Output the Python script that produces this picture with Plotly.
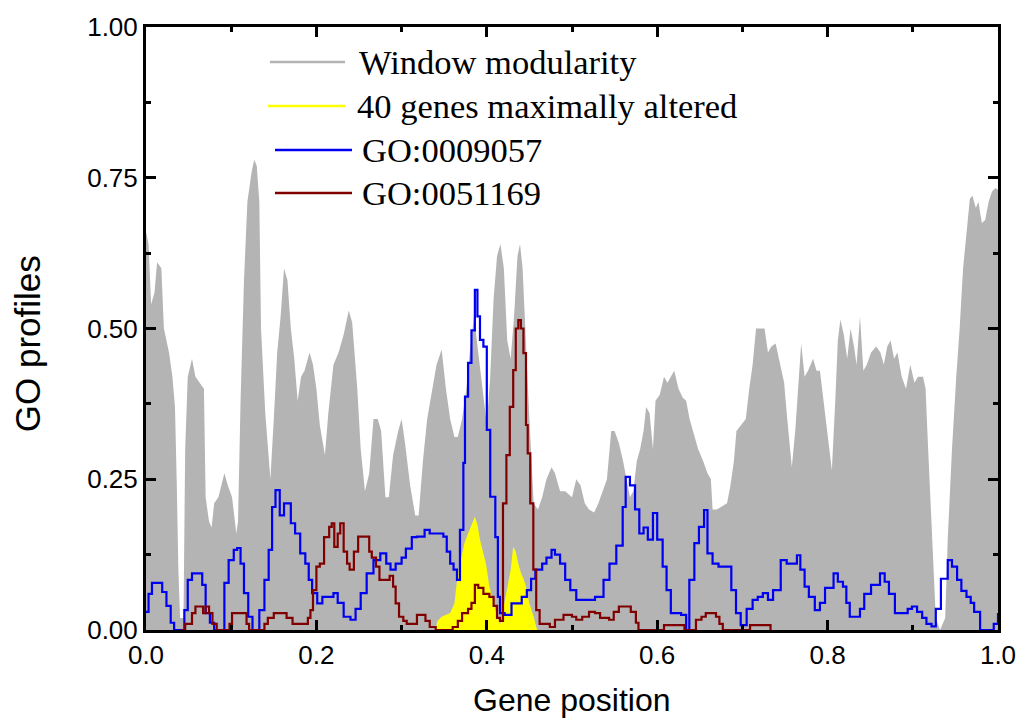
import plotly.graph_objects as go

# Window modularity profile (gene position, value)
mod_x = [0.000, 0.003, 0.006, 0.010, 0.013, 0.018, 0.021, 0.027, 0.031, 0.034, 0.036, 0.038, 0.040, 0.044,
         0.046, 0.049, 0.054, 0.058, 0.063, 0.068, 0.070, 0.074, 0.077, 0.080, 0.085, 0.090, 0.092, 0.096,
         0.101, 0.106, 0.108, 0.111, 0.115, 0.119, 0.124, 0.127, 0.130, 0.133, 0.135, 0.140, 0.146, 0.150,
         0.154, 0.158, 0.162, 0.166, 0.170, 0.174, 0.178, 0.182, 0.186, 0.192, 0.196, 0.200, 0.204, 0.210,
         0.214, 0.220, 0.226, 0.232, 0.238, 0.242, 0.248, 0.252, 0.257, 0.262, 0.267, 0.272, 0.276, 0.281,
         0.285, 0.290, 0.296, 0.300, 0.304, 0.310, 0.316, 0.320, 0.325, 0.330, 0.336, 0.341, 0.347, 0.352,
         0.357, 0.362, 0.366, 0.371, 0.376, 0.380, 0.385, 0.390, 0.395, 0.400, 0.404, 0.408, 0.412, 0.416,
         0.420, 0.424, 0.428, 0.432, 0.436, 0.439, 0.442, 0.446, 0.450, 0.455, 0.460, 0.465, 0.470, 0.476,
         0.480, 0.486, 0.492, 0.500, 0.505, 0.510, 0.515, 0.520, 0.526, 0.531, 0.536, 0.541, 0.546, 0.550,
         0.555, 0.560, 0.564, 0.568, 0.572, 0.576, 0.580, 0.584, 0.587, 0.591, 0.595, 0.598, 0.603, 0.608,
         0.612, 0.616, 0.620, 0.625, 0.630, 0.634, 0.638, 0.642, 0.648, 0.654, 0.659, 0.663, 0.665, 0.670,
         0.676, 0.682, 0.686, 0.690, 0.693, 0.698, 0.704, 0.708, 0.712, 0.716, 0.720, 0.726, 0.730, 0.734,
         0.739, 0.744, 0.749, 0.752, 0.755, 0.758, 0.762, 0.766, 0.769, 0.773, 0.777, 0.783, 0.787, 0.791,
         0.795, 0.800, 0.805, 0.809, 0.812, 0.815, 0.819, 0.823, 0.827, 0.831, 0.834, 0.838, 0.842, 0.846,
         0.851, 0.857, 0.862, 0.866, 0.870, 0.874, 0.878, 0.882, 0.887, 0.892, 0.897, 0.902, 0.906, 0.912,
         0.915, 0.918, 0.921, 0.924, 0.927, 0.932, 0.938, 0.941, 0.946, 0.951, 0.955, 0.959, 0.963, 0.967,
         0.970, 0.974, 0.977, 0.981, 0.985, 0.989, 0.993, 0.997, 1.000]
mod_y = [0.66, 0.64, 0.54, 0.56, 0.61, 0.60, 0.50, 0.46, 0.42, 0.37, 0.25, 0.10, 0.02, 0.02,
         0.30, 0.42, 0.45, 0.42, 0.41, 0.40, 0.22, 0.18, 0.17, 0.21, 0.22, 0.25, 0.26, 0.24,
         0.22, 0.16, 0.18, 0.38, 0.58, 0.71, 0.76, 0.78, 0.77, 0.71, 0.50, 0.36, 0.25, 0.35,
         0.46, 0.52, 0.60, 0.58, 0.50, 0.45, 0.38, 0.42, 0.43, 0.46, 0.44, 0.40, 0.34, 0.29,
         0.36, 0.44, 0.46, 0.49, 0.53, 0.51, 0.40, 0.30, 0.23, 0.26, 0.35, 0.35, 0.33, 0.22,
         0.22, 0.29, 0.33, 0.35, 0.31, 0.24, 0.19, 0.19, 0.28, 0.35, 0.40, 0.44, 0.465, 0.40,
         0.35, 0.32, 0.32, 0.35, 0.40, 0.46, 0.52, 0.46, 0.40, 0.34, 0.42, 0.55, 0.62, 0.64,
         0.60, 0.48, 0.45, 0.52, 0.62, 0.64, 0.60, 0.46, 0.35, 0.21, 0.20, 0.22, 0.25, 0.27,
         0.26, 0.23, 0.23, 0.22, 0.25, 0.24, 0.21, 0.20, 0.195, 0.21, 0.23, 0.25, 0.33, 0.33,
         0.31, 0.28, 0.25, 0.22, 0.23, 0.28, 0.30, 0.33, 0.37, 0.36, 0.30, 0.38, 0.39, 0.42,
         0.41, 0.42, 0.43, 0.40, 0.385, 0.38, 0.35, 0.33, 0.30, 0.28, 0.26, 0.25, 0.20, 0.20,
         0.205, 0.21, 0.24, 0.28, 0.33, 0.34, 0.35, 0.40, 0.44, 0.50, 0.50, 0.50, 0.46, 0.47,
         0.475, 0.44, 0.41, 0.36, 0.32, 0.27, 0.33, 0.42, 0.475, 0.42, 0.43, 0.45, 0.43, 0.43,
         0.38, 0.32, 0.265, 0.38, 0.48, 0.515, 0.49, 0.45, 0.50, 0.47, 0.44, 0.52, 0.43, 0.44,
         0.46, 0.47, 0.46, 0.44, 0.47, 0.48, 0.45, 0.46, 0.42, 0.40, 0.44, 0.41, 0.42, 0.42,
         0.40, 0.30, 0.20, 0.10, 0.02, 0.00, 0.02, 0.15, 0.30, 0.42, 0.50, 0.60, 0.66, 0.715,
         0.72, 0.70, 0.71, 0.675, 0.68, 0.71, 0.727, 0.733, 0.73]

# 40 genes maximally altered
alt_x = [0.340, 0.342, 0.347, 0.352, 0.357, 0.362, 0.366, 0.370, 0.374, 0.378, 0.382, 0.386, 0.389,
         0.392, 0.396, 0.399, 0.403, 0.408, 0.412, 0.416, 0.420, 0.424, 0.428, 0.431, 0.434, 0.437,
         0.440, 0.443, 0.446, 0.450, 0.455, 0.459]
alt_y = [0.0, 0.015, 0.022, 0.025, 0.028, 0.044, 0.094, 0.12, 0.145, 0.16, 0.175, 0.188, 0.175,
         0.15, 0.127, 0.11, 0.072, 0.044, 0.022, 0.01, 0.04, 0.072, 0.10, 0.138, 0.13, 0.11,
         0.095, 0.085, 0.072, 0.044, 0.022, 0.0]

# GO:0009057 profile
go1_x = [0.000, 0.003, 0.007, 0.015, 0.019, 0.024, 0.029, 0.033, 0.041, 0.045, 0.049, 0.054, 0.062,
         0.066, 0.070, 0.075, 0.080, 0.088, 0.092, 0.097, 0.103, 0.107, 0.111, 0.115, 0.120, 0.125,
         0.129, 0.133, 0.139, 0.144, 0.148, 0.152, 0.157, 0.162, 0.166, 0.170, 0.175, 0.181, 0.187,
         0.191, 0.195, 0.201, 0.207, 0.214, 0.220, 0.225, 0.232, 0.240, 0.246, 0.252, 0.259, 0.267,
         0.275, 0.282, 0.287, 0.293, 0.300, 0.305, 0.312, 0.318, 0.327, 0.333, 0.341, 0.349, 0.353,
         0.357, 0.361, 0.365, 0.3685, 0.3725, 0.3744, 0.378, 0.382, 0.386, 0.389, 0.392, 0.396, 0.400,
         0.404, 0.410, 0.413, 0.4155, 0.421, 0.429, 0.441, 0.447, 0.452, 0.457, 0.465, 0.470, 0.476,
         0.480, 0.486, 0.492, 0.498, 0.505, 0.517, 0.527, 0.537, 0.544, 0.552, 0.5595, 0.563, 0.568,
         0.574, 0.579, 0.584, 0.589, 0.595, 0.600, 0.6064, 0.611, 0.616, 0.628, 0.634, 0.6377, 0.6436,
         0.649, 0.655, 0.659, 0.665, 0.672, 0.681, 0.687, 0.6925, 0.698, 0.705, 0.712, 0.718, 0.724,
         0.730, 0.736, 0.745, 0.752, 0.758, 0.764, 0.768, 0.773, 0.778, 0.785, 0.791, 0.797, 0.807,
         0.812, 0.818, 0.822, 0.826, 0.833, 0.838, 0.843, 0.851, 0.8615, 0.867, 0.872, 0.879, 0.888,
         0.894, 0.899, 0.905, 0.911, 0.916, 0.922, 0.927, 0.933, 0.941, 0.946, 0.952, 0.957, 0.963,
         0.968, 0.972, 0.979, 0.990, 0.995, 1.000]
go1_y = [0.03, 0.06, 0.078, 0.078, 0.063, 0.04, 0.012, 0.0, 0.0, 0.033, 0.083, 0.094, 0.094,
         0.075, 0.028, 0.012, 0.0, 0.0, 0.078, 0.116, 0.133, 0.136, 0.11, 0.061, 0.022, 0.0,
         0.0, 0.033, 0.083, 0.133, 0.204, 0.232, 0.19, 0.21, 0.21, 0.177, 0.16, 0.127, 0.11,
         0.083, 0.061, 0.044, 0.055, 0.055, 0.061, 0.045, 0.022, 0.017, 0.035, 0.061, 0.094, 0.116,
         0.127, 0.11, 0.10, 0.11, 0.12, 0.135, 0.154, 0.155, 0.166, 0.16, 0.16, 0.155, 0.13,
         0.11, 0.10, 0.083, 0.166, 0.277, 0.387, 0.443, 0.497, 0.564, 0.52, 0.481, 0.47, 0.332,
         0.221, 0.154, 0.055, 0.028, 0.025, 0.044, 0.055, 0.066, 0.085, 0.10, 0.11, 0.12, 0.133,
         0.125, 0.11, 0.083, 0.066, 0.05, 0.05, 0.055, 0.083, 0.11, 0.14, 0.204, 0.254, 0.24,
         0.2, 0.16, 0.17, 0.15, 0.194, 0.15, 0.105, 0.066, 0.028, 0.025, 0.0, 0.083, 0.144,
         0.171, 0.199, 0.127, 0.11, 0.105, 0.105, 0.066, 0.028, 0.008, 0.035, 0.05, 0.055, 0.061,
         0.05, 0.066, 0.116, 0.11, 0.11, 0.124, 0.10, 0.072, 0.055, 0.033, 0.045, 0.07, 0.094,
         0.08, 0.072, 0.045, 0.022, 0.022, 0.035, 0.06, 0.075, 0.094, 0.08, 0.06, 0.028, 0.028,
         0.035, 0.039, 0.03, 0.02, 0.01, 0.006, 0.035, 0.085, 0.116, 0.105, 0.083, 0.065, 0.055,
         0.045, 0.03, 0.0, 0.0, 0.01, 0.028]

# GO:0051169 profile
go2_x = [0.041, 0.046, 0.050, 0.054, 0.058, 0.063, 0.067, 0.070, 0.074, 0.078, 0.083, 0.095, 0.098,
         0.101, 0.115, 0.118, 0.121, 0.136, 0.139, 0.143, 0.150, 0.158, 0.165, 0.172, 0.185, 0.190,
         0.193, 0.196, 0.200, 0.204, 0.209, 0.215, 0.218, 0.221, 0.225, 0.228, 0.232, 0.236, 0.239,
         0.244, 0.249, 0.257, 0.262, 0.265, 0.270, 0.274, 0.282, 0.286, 0.290, 0.293, 0.297, 0.302,
         0.306, 0.313, 0.318, 0.322, 0.328, 0.333, 0.340, 0.352, 0.360, 0.366, 0.371, 0.378, 0.382,
         0.386, 0.390, 0.396, 0.403, 0.408, 0.412, 0.4155, 0.419, 0.423, 0.427, 0.431, 0.434, 0.437,
         0.440, 0.443, 0.446, 0.448, 0.451, 0.4546, 0.458, 0.462, 0.474, 0.480, 0.490, 0.500, 0.505,
         0.512, 0.520, 0.527, 0.533, 0.5435, 0.549, 0.555, 0.563, 0.569, 0.575, 0.578, 0.606, 0.608,
         0.630, 0.632, 0.644, 0.6455, 0.652, 0.657, 0.664, 0.669, 0.673, 0.677, 0.707, 0.709, 0.731,
         0.733]
go2_y = [0.0, 0.01, 0.01, 0.028, 0.039, 0.039, 0.028, 0.039, 0.028, 0.01, 0.0, 0.0, 0.01,
         0.028, 0.028, 0.01, 0.0, 0.0, 0.01, 0.02, 0.028, 0.028, 0.02, 0.01, 0.01, 0.02,
         0.033, 0.066, 0.105, 0.11, 0.154, 0.171, 0.177, 0.138, 0.16, 0.177, 0.13, 0.11, 0.10,
         0.13, 0.155, 0.155, 0.13, 0.12, 0.105, 0.083, 0.083, 0.09, 0.072, 0.044, 0.022, 0.015,
         0.01, 0.01, 0.025, 0.025, 0.015, 0.005, 0.0, 0.0, 0.005, 0.015, 0.028, 0.035, 0.045,
         0.075, 0.07, 0.06, 0.055, 0.04, 0.02, 0.015, 0.21, 0.29, 0.37, 0.431, 0.50, 0.514,
         0.50, 0.459, 0.34, 0.293, 0.21, 0.10, 0.033, 0.01, 0.005, 0.017, 0.025, 0.022, 0.017,
         0.022, 0.03, 0.028, 0.02, 0.017, 0.03, 0.039, 0.039, 0.03, 0.012, 0.0, 0.0, 0.008,
         0.008, 0.0, 0.0, 0.017, 0.022, 0.028, 0.028, 0.022, 0.01, 0.0, 0.0, 0.008, 0.008,
         0.0]

legend_names = ["Window modularity", "40 genes maximally altered", "GO:0009057", "GO:0051169"]
colors = ["#B4B4B4", "#FFFF00", "#0000F0", "#800000"]

fig = go.Figure()
fig.add_trace(go.Scatter(x=mod_x, y=mod_y, mode="lines", fill="tozeroy",
                         line=dict(width=0, color=colors[0]), fillcolor=colors[0],
                         name=legend_names[0]))
fig.add_trace(go.Scatter(x=alt_x, y=alt_y, mode="lines", fill="tozeroy",
                         line=dict(width=0, color=colors[1]), fillcolor=colors[1],
                         name=legend_names[1]))
fig.add_trace(go.Scatter(x=go1_x, y=go1_y, mode="lines", line_shape="hv",
                         line=dict(width=2.2, color=colors[2]), name=legend_names[2]))
fig.add_trace(go.Scatter(x=go2_x, y=go2_y, mode="lines", line_shape="hv",
                         line=dict(width=2.2, color=colors[3]), name=legend_names[3]))

# hand-drawn legend: short line samples with serif labels
legend_rows = [
    (0.1455, 0.2336, 0.942, 0.2477),
    (0.1432, 0.2336, 0.869, 0.2453),
    (0.1514, 0.2418, 0.796, 0.2512),
    (0.1514, 0.2418, 0.7247, 0.2512),
]
shapes = []
annotations = []
for (x0, x1, yy, tx), name, col in zip(legend_rows, legend_names, colors):
    shapes.append(dict(type="line", xref="paper", yref="paper", x0=x0, x1=x1, y0=yy, y1=yy,
                       line=dict(color=col, width=2.5)))
    annotations.append(dict(xref="paper", yref="paper", x=tx, y=yy, text=name, showarrow=False,
                            xanchor="left", yanchor="middle",
                            font=dict(family="Liberation Serif", size=34.5, color="#000000")))

# axis titles
annotations.append(dict(xref="paper", yref="paper", x=0.499, y=0, yshift=-70,
                        text="Gene position", showarrow=False, xanchor="center", yanchor="middle",
                        font=dict(family="Liberation Sans", size=32, color="#000000")))
annotations.append(dict(xref="paper", yref="paper", x=0, xshift=-119, y=0.474,
                        text="GO profiles", showarrow=False, textangle=-90,
                        xanchor="center", yanchor="middle",
                        font=dict(family="Liberation Sans", size=35, color="#000000")))

axis_common = dict(
    showline=True, linecolor="black", linewidth=3, mirror="ticks",
    ticks="inside", ticklen=10, tickwidth=2.5, tickcolor="black",
    showgrid=False, zeroline=False, automargin=False,
    tickfont=dict(family="Liberation Sans", size=26, color="#000000"),
)

fig.update_layout(
    width=1018, height=720,
    margin=dict(l=146, r=20, t=27, b=90),
    paper_bgcolor="white", plot_bgcolor="white",
    showlegend=False,
    shapes=shapes, annotations=annotations,
    xaxis=dict(range=[0, 1], tickvals=[0.0, 0.2, 0.4, 0.6, 0.8, 1.0],
               ticktext=["0.0", "0.2", "0.4", "0.6", "0.8", "1.0"],
               minor=dict(dtick=0.1, tick0=0, ticks="inside", ticklen=5, tickwidth=2.5,
                          tickcolor="black"),
               **axis_common),
    yaxis=dict(range=[0, 1], tickvals=[0.0, 0.25, 0.5, 0.75, 1.0],
               ticktext=["0.00", "0.25", "0.50", "0.75", "1.00"],
               minor=dict(dtick=0.125, tick0=0, ticks="inside", ticklen=5, tickwidth=2.5,
                          tickcolor="black"),
               **axis_common),
)

fig.write_html("out.html")
